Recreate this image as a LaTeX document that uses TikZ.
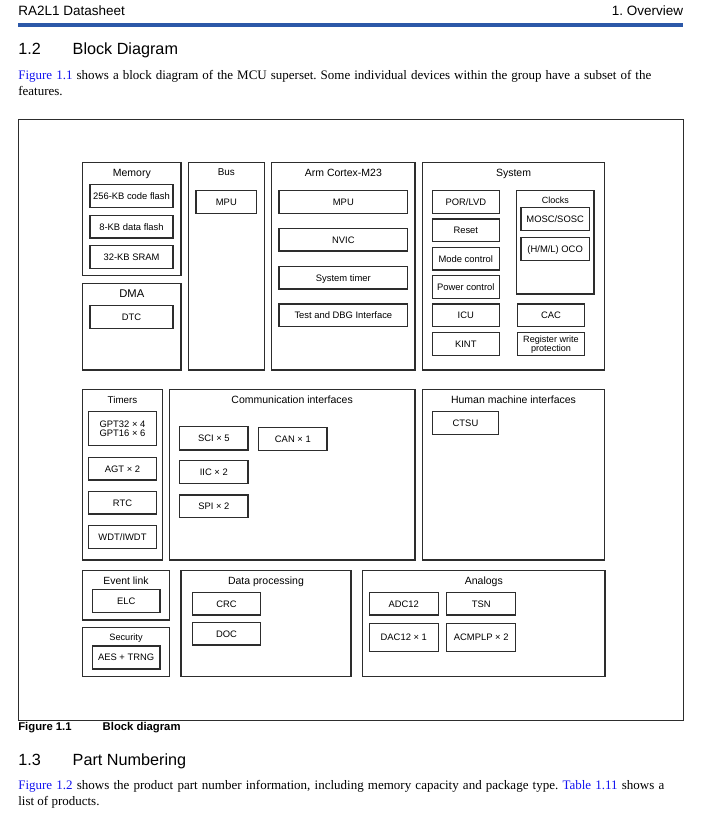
\documentclass[tikz,border=0pt]{standalone}
\usepackage{fontspec}
\setmainfont{Liberation Serif}
\newfontfamily\arial{Liberation Sans}
\newcommand\fsz[1]{\fontsize{#1pt}{#1pt}\selectfont}
\frenchspacing
\definecolor{hdrblue}{RGB}{44,88,168}
\definecolor{lnk}{RGB}{20,20,240}
\definecolor{edge}{RGB}{45,45,45}
\tikzset{
  frame/.style={draw=edge,line width=1.2pt,inner sep=0pt,outer sep=0pt,font=\arial\fsz{9.4},align=center},
  one/.style={frame,text height=6.7pt,text depth=0pt},
  grpbox/.style={draw=edge,line width=1.05pt,inner sep=0pt,outer sep=0pt},
  ttl/.style={anchor=base,inner sep=0pt,outer sep=0pt},
  txt/.style={anchor=base west,inner sep=0pt,outer sep=0pt}
}
\newcommand\bx[7][]{\node[one,minimum width={(#5-#3)*1pt},minimum height={(#6-#4)*1pt},#1] (#2) at ({(#3+#5)/2},{(#4+#6)/2}) {#7};}
\newcommand\grp[8]{\node[grpbox,minimum width={(#4-#2)*1pt},minimum height={(#5-#3)*1pt}] (#1) at ({(#2+#4)/2},{(#3+#5)/2}) {};
  \node[ttl,font=\arial\fsz{#8}] (#1T) at ({(#2+#4)/2},#7) {#6};}
\begin{document}
\begin{tikzpicture}[x=1pt,y=-1pt]
\useasboundingbox[fill=white] (0,0) rectangle (711,816);
% header
\node[txt,font=\arial\fsz{13.5}] (hdrL) at (18.3,15.5) {RA2L1 Datasheet};
\node[anchor=base east,inner sep=0pt,font=\arial\fsz{13.5}] (hdrR) at (683.3,15.5) {1. Overview};
\coordinate (hl1) at (18.3,25.3);
\coordinate (hl2) at (683.3,25.3);
\draw[hdrblue,line width=3.6pt] (hl1) -- (hl2);
\node[txt,font=\arial\fsz{16.2}] (s12n) at (18.3,55) {1.2};
\node[txt,font=\arial\fsz{16.2}] (s12t) at (72.7,55) {Block Diagram};
\node[txt,font=\fsz{13}] (p1a) at (18.3,79) {\frenchspacing\makebox[633pt][s]{\textcolor{lnk}{Figure 1.1} shows a block diagram of the MCU superset. Some individual devices within the group have a subset of the}};
\node[txt,font=\fsz{13}] (p1b) at (18.3,95) {features.};
% outer frame
\node[draw=edge,line width=1pt,inner sep=0pt,minimum width=665pt,minimum height=601pt] (outer) at ({(18.3+683.3)/2},{(119+720)/2}) {};
% Memory
\grp{mem}{82.7}{162.7}{181}{275.7}{Memory}{176.7}{10.5}
\bx{m1}{90}{184.7}{173}{207.3}{256-KB code flash}
\bx{m2}{90}{215.3}{173}{238}{8-KB data flash}
\bx{m3}{90}{245.7}{173}{268.3}{32-KB SRAM}
% DMA
\grp{dma}{82.7}{283.3}{181}{370}{DMA}{297.7}{11.2}
\bx{dtc}{90}{305.7}{173}{328.3}{DTC}
% Bus
\grp{bus}{188.3}{162.7}{264.3}{370}{Bus}{175.5}{9.9}
\bx{bmpu}{196}{190.3}{256.7}{213.3}{MPU}
% Arm
\grp{arm}{271.7}{162.7}{415}{370}{Arm Cortex-M23}{176.7}{10.5}
\bx{ampu}{279}{190.3}{407.7}{213.3}{MPU}
\bx{nvic}{279}{228.3}{407.7}{251}{NVIC}
\bx{systim}{279}{266.3}{407.7}{289}{System timer}
\bx{dbg}{279}{304}{407.7}{326.7}{Test and DBG Interface}
% System
\grp{sys}{422.7}{162.7}{604.3}{370}{System}{176.7}{10.5}
\bx{por}{432.3}{190.7}{499.3}{213.3}{POR/LVD}
\bx{rst}{432.3}{219}{499.3}{241.7}{Reset}
\bx{mode}{432.3}{247.3}{499.3}{270}{Mode control}
\bx{pwr}{432.3}{275.7}{499.3}{298.3}{Power control}
\bx{icu}{432.3}{304}{499.3}{326.7}{ICU}
\bx{kint}{432.3}{332.7}{499.3}{355.7}{KINT}
\grp{clk}{516.7}{190.7}{594}{294}{Clocks}{203.5}{9}
\bx{mosc}{521}{207.3}{589.3}{230.3}{MOSC/SOSC}
\bx{oco}{521}{237.7}{589.3}{260.7}{(H/M/L) OCO}
\bx{cac}{517.3}{304}{584.7}{326.7}{CAC}
\node[frame,font=\arial\fsz{9.1},minimum width=67.4pt,minimum height=23pt] (rwp) at ({(517.3+584.7)/2},344.2) {\baselineskip=9.5pt Register write\\protection};
% Timers
\grp{tim}{82.7}{389.3}{162.3}{560}{Timers}{403.3}{9.8}
\node[frame,minimum width=68.4pt,minimum height=34pt] (gpt) at ({(88.3+156.7)/2},428.7) {\baselineskip=10.5pt GPT32 × 4\\GPT16 × 6};
\bx{agt}{88.3}{457.3}{156.7}{480}{AGT × 2}
\bx{rtc}{88.3}{491.3}{156.7}{514}{RTC}
\bx{wdt}{88.3}{525.3}{156.7}{548.3}{WDT/IWDT}
% Communication
\grp{com}{169.3}{389.3}{415}{560}{Communication interfaces}{403.3}{10.5}
\bx{sci}{179.7}{426.7}{248}{450}{SCI × 5}
\bx{can}{258.7}{427.3}{327}{450.3}{CAN × 1}
\bx{iic}{179.7}{460.7}{248}{483.3}{IIC × 2}
\bx{spi}{179.7}{495}{248}{517.7}{SPI × 2}
% HMI
\grp{hmi}{422.7}{389.3}{604.3}{560}{Human machine interfaces}{403.3}{10.5}
\bx{ctsu}{432.3}{411.7}{498.7}{434.3}{CTSU}
% Event link
\grp{evl}{82.7}{570.7}{169.3}{620}{Event link}{584}{10.4}
\bx{elc}{92.3}{589.3}{160}{612.3}{ELC}
% Security
\grp{sec}{82.7}{627.7}{169.3}{676.7}{Security}{640.5}{9.2}
\bx{aes}{92.3}{646}{160}{669}{AES + TRNG}
% Data processing
\grp{dat}{181}{570.7}{351}{676.7}{Data processing}{584}{10.5}
\bx{crc}{192.3}{592.3}{260.7}{615}{CRC}
\bx{doc}{192.3}{622.3}{260.7}{645}{DOC}
% Analogs
\grp{ana}{362.7}{570.7}{605}{676.7}{Analogs}{584}{10.5}
\bx{adc}{369.3}{592.3}{438.3}{615}{ADC12}
\bx{tsn}{446.7}{592.3}{515.7}{615}{TSN}
\bx{dac}{369.3}{623.3}{438.3}{651.7}{DAC12 × 1}
\bx{acmp}{446.7}{623.3}{515.7}{651.7}{ACMPLP × 2}
% caption
\node[txt,font=\arial\bfseries\fsz{11.3}] (capn) at (18.3,730.7) {Figure 1.1};
\node[txt,font=\arial\bfseries\fsz{11.3}] (capt) at (102.7,730.7) {Block diagram};
% section 1.3
\node[txt,font=\arial\fsz{16.2}] (s13n) at (18.3,765) {1.3};
\node[txt,font=\arial\fsz{16.2}] (s13t) at (72.7,765) {Part Numbering};
\node[txt,font=\fsz{13}] (p2a) at (18.3,789.3) {\frenchspacing\makebox[646pt][s]{\textcolor{lnk}{Figure 1.2} shows the product part number information, including memory capacity and package type. \textcolor{lnk}{Table 1.11} shows a}};
\node[txt,font=\fsz{13}] (p2b) at (18.3,805) {list of products.};
\end{tikzpicture}
\end{document}
